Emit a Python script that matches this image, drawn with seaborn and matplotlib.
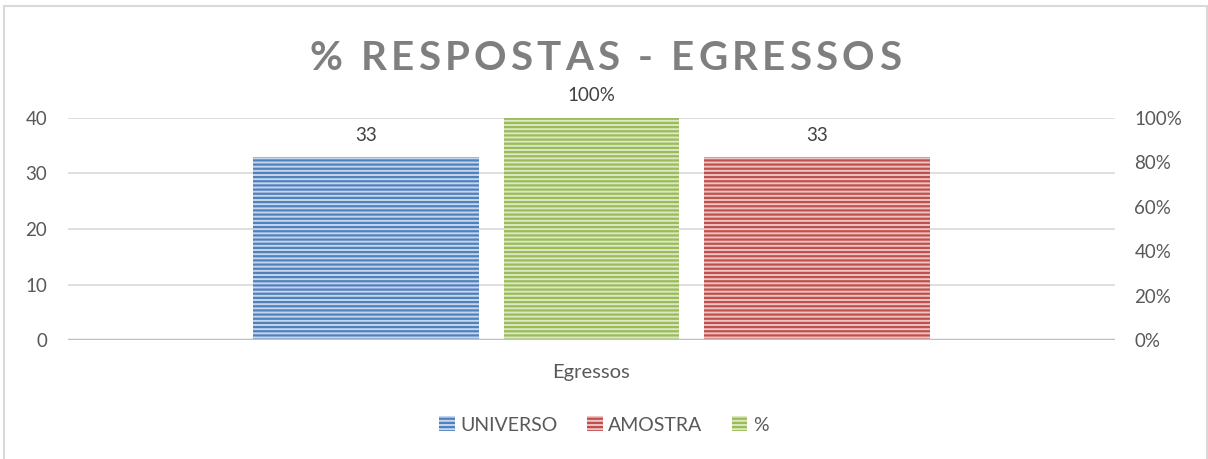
import matplotlib
matplotlib.use("Agg")
import matplotlib.pyplot as plt
import matplotlib.patches as mpatches
from matplotlib.ticker import PercentFormatter
import seaborn as sns

# data
categories = ["Egressos"]
universo = [33]
amostra = [33]
percentual = [1.0]
series_names = ["UNIVERSO", "AMOSTRA", "%"]
title_text = "% RESPOSTAS - EGRESSOS"

sns.set_theme(style="white")
plt.rcParams["font.family"] = ["Lato", "DejaVu Sans"]
plt.rcParams["hatch.linewidth"] = 1.6

blue_dark, blue_light = "#4f81bd", "#c6d6ec"
red_dark, red_light = "#c0504d", "#ecc4c3"
green_dark, green_light = "#9bbb59", "#dbe8c3"
text_gray = "#595959"

W, H = 1208, 459
fig = plt.figure(figsize=(W / 100, H / 100), dpi=100)
left, right, bottom, top = 68, 1115, 340, 118
ax = fig.add_axes([left / W, 1 - bottom / H, (right - left) / W, (bottom - top) / H])
ax2 = ax.twinx()

x = list(range(len(categories)))
bw = 226 / (right - left)
gw = 175 / (right - left)
off = 0.2153

b1 = ax.bar([i - off for i in x], universo, width=bw, color=blue_light,
            edgecolor=blue_dark, linewidth=0, hatch="----", label=series_names[0], zorder=3)
b2 = ax.bar([i + off for i in x], amostra, width=bw, color=red_light,
            edgecolor=red_dark, linewidth=0, hatch="----", label=series_names[1], zorder=3)
b3 = ax2.bar(x, percentual, width=gw, color=green_light,
             edgecolor=green_dark, linewidth=0, hatch="----", label=series_names[2], zorder=3)

ax.set_xlim(-0.5, 0.5)
ax.set_ylim(0, 40)
ax.set_yticks([0, 10, 20, 30, 40])
ax2.set_ylim(0, 1)
ax2.set_yticks([0, 0.2, 0.4, 0.6, 0.8, 1.0])
ax2.yaxis.set_major_formatter(PercentFormatter(1.0, decimals=0))

ax.set_xticks(x)
ax.set_xticklabels(categories)
ax.tick_params(axis="x", length=0, pad=17, labelsize=14.5, labelcolor=text_gray)
ax.tick_params(axis="y", length=0, pad=15, labelsize=13.5, labelcolor=text_gray)
ax2.tick_params(axis="y", length=0, pad=14, labelsize=13.5, labelcolor=text_gray)

ax.grid(axis="y", color="#d9d9d9", linewidth=1.2, zorder=0)
ax.grid(axis="x", visible=False)
ax2.grid(False)
for a in (ax, ax2):
    for s in a.spines.values():
        s.set_visible(False)
ax2.axhline(0, color="#bfbfbf", linewidth=2.5, zorder=4)

ax.bar_label(b1, labels=[str(v) for v in universo], padding=9, fontsize=13.5, color="#404040")
ax.bar_label(b2, labels=[str(v) for v in amostra], padding=9, fontsize=13.5, color="#404040")
ax2.bar_label(b3, labels=[f"{v:.0%}" for v in percentual], padding=10, fontsize=13.5, color="#404040")

# legend
handles = [mpatches.Patch(facecolor=c, edgecolor=e, hatch="----", linewidth=0)
           for c, e in [(blue_light, blue_dark), (red_light, red_dark), (green_light, green_dark)]]
fig.legend(handles, series_names, loc="center", bbox_to_anchor=(604 / W, 1 - 425 / H),
           ncol=3, frameon=False, fontsize=14, handlelength=0.8, handleheight=0.8,
           handletextpad=0.3, columnspacing=1.5, labelcolor=text_gray)

# spaced title
def spaced_title(fig, s, xc, yc, tracking, **kw):
    r = fig.canvas.get_renderer()
    widths = []
    for ch in s:
        if ch == " ":
            widths.append(kw["fontsize"] * 100 / 72 * 0.25)
            continue
        t = fig.text(0, 0, ch, **kw)
        widths.append(t.get_window_extent(r).width)
        t.remove()
    total = sum(widths) + tracking * (len(s) - 1)
    xpos = xc - total / 2
    for ch, w in zip(s, widths):
        fig.text(xpos / W, 1 - yc / H, ch, ha="left", va="center", **kw)
        xpos += w + tracking

spaced_title(fig, title_text, 605, 58, 4.2, fontsize=29, fontweight="bold", color="#7f7f7f")

fig.patches.append(mpatches.Rectangle((4 / W, -0.02), 1203 / W, 1.02 - 6 / H, transform=fig.transFigure,
                                      fill=False, edgecolor="#d9d9d9", linewidth=1.5))

fig.savefig("out.png", dpi=100)
